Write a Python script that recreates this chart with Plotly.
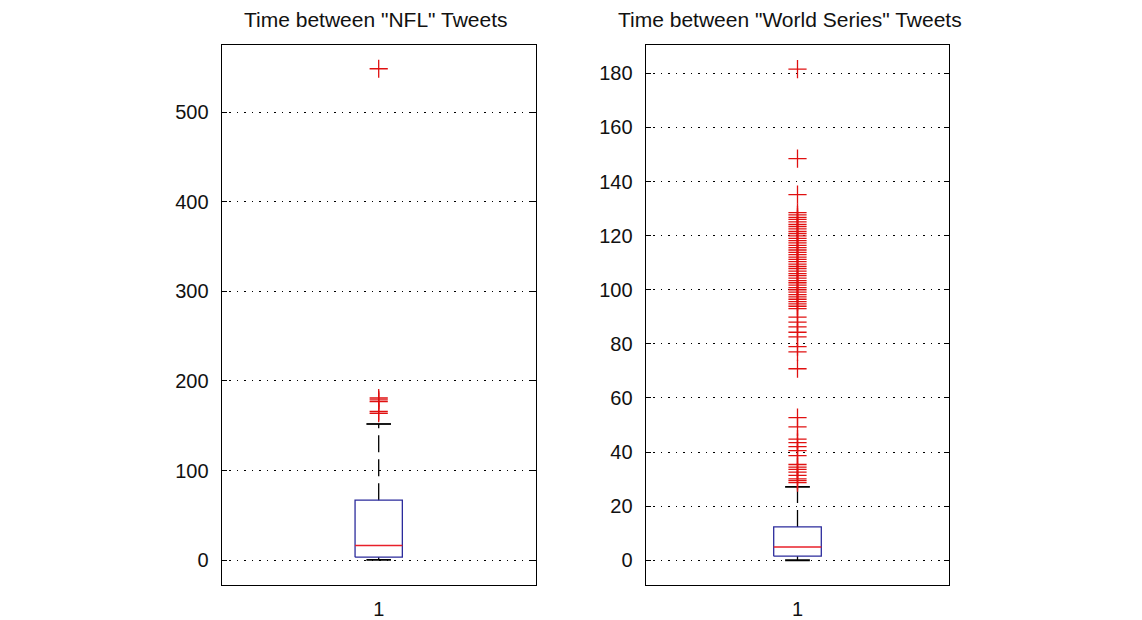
import plotly.graph_objects as go
from plotly.subplots import make_subplots

# ---------------- data ----------------
titles = ['Time between "NFL" Tweets', 'Time between "World Series" Tweets']
x_tick_labels = ["1"]

# box statistics: lower whisker, Q1, median, Q3, upper whisker
nfl_stats = [0.4, 3.4, 16.4, 67.0, 152.0]
ws_stats = [0.0, 1.5, 4.9, 12.3, 27.1]

nfl_outliers = [164, 166, 177, 179, 181, 548.5]
ws_outliers = [28.7, 29.4, 30.1, 31.4, 32.6, 33.6, 34.4, 35.4, 38.7, 40.5,
               42.0, 43.5, 44.8, 49.3, 52.7, 70.8, 77.0, 79.0, 82.6, 84.3,
               86.3, 88.0, 89.9, 93.0, 93.9, 94.8, 95.6, 96.5, 97.4, 98.2,
               99.1, 100.0, 100.8, 101.7, 102.6, 103.4, 104.3, 105.2, 106.0,
               106.9, 107.8, 108.6, 109.5, 110.4, 111.2, 112.1, 113.0, 113.8,
               114.7, 115.6, 116.4, 117.3, 118.2, 119.0, 119.9, 120.8, 121.6,
               122.5, 123.4, 124.2, 125.1, 126.0, 126.8, 127.7, 128.5, 135.2,
               148.5, 181.6]

nfl_ticks = [0, 100, 200, 300, 400, 500]
ws_ticks = [0, 20, 40, 60, 80, 100, 120, 140, 160, 180]

# ---------------- styling ----------------
FONT = "Liberation Sans, Arial, sans-serif"
BOX_C = "#2b2b9c"
MED_C = "#e8202a"
OUT_C = "#e01010"
WHISK_C = "#000000"

fig = make_subplots(rows=1, cols=2)


def add_box(col, stats, outliers, half_w):
    lo, q1, med, q3, hi = stats
    x0, x1 = 1 - half_w, 1 + half_w
    cap = half_w * 0.52
    # whiskers (dashed)
    fig.add_trace(go.Scatter(x=[1, 1, None, 1, 1], y=[q3, hi, None, lo, q1],
                             mode="lines", line=dict(color=WHISK_C, width=1.3, dash="17px,7px"),
                             hoverinfo="skip", showlegend=False), row=1, col=col)
    # caps
    fig.add_trace(go.Scatter(x=[1 - cap, 1 + cap, None, 1 - cap, 1 + cap],
                             y=[hi, hi, None, lo, lo], mode="lines",
                             line=dict(color=WHISK_C, width=1.8),
                             hoverinfo="skip", showlegend=False), row=1, col=col)
    # box
    fig.add_trace(go.Scatter(x=[x0, x1, x1, x0, x0], y=[q1, q1, q3, q3, q1],
                             mode="lines", line=dict(color=BOX_C, width=1.3),
                             hoverinfo="skip", showlegend=False), row=1, col=col)
    # median
    fig.add_trace(go.Scatter(x=[x0, x1], y=[med, med], mode="lines",
                             line=dict(color=MED_C, width=1.3),
                             hoverinfo="skip", showlegend=False), row=1, col=col)
    # outliers
    fig.add_trace(go.Scatter(x=[1] * len(outliers), y=outliers, mode="markers",
                             marker=dict(symbol="cross-thin-open", size=13, color=OUT_C,
                                         line=dict(color=OUT_C, width=1.3)),
                             hoverinfo="skip", showlegend=False), row=1, col=col)


add_box(1, nfl_stats, nfl_outliers, 0.0753)
add_box(2, ws_stats, ws_outliers, 0.0784)

W, H = 1142, 620
left_dom = [221.7 / W, 535.7 / W]
right_dom = [645.7 / W, 949.3 / W]
y_dom = [1 - 591.0 / H, 1 - 45.7 / H]

axis_common = dict(showline=True, linecolor="black", linewidth=1.3, mirror=True,
                   tickfont=dict(family=FONT, size=20, color="#111111"))

for i, (dom, ticks, rng) in enumerate([(left_dom, nfl_ticks, [-28.0, 574.7]),
                                       (right_dom, ws_ticks, [-9.26, 190.4])], start=1):
    fig.update_xaxes(domain=dom, range=[0.5, 1.5], tickvals=[1], ticktext=x_tick_labels,
                     ticks="", showgrid=False, zeroline=False, ticklabelstandoff=6,
                     row=1, col=i, **axis_common)
    fig.update_yaxes(domain=y_dom, range=rng, tickvals=ticks, ticks="inside",
                     ticklen=5, tickcolor="black", tickwidth=1.3,
                     showgrid=True, gridcolor="black", gridwidth=1.2,
                     griddash="1.5px,6px", zeroline=False, ticklabelstandoff=8,
                     row=1, col=i, **{**axis_common, "mirror": "ticks"})

fig.add_annotation(text=titles[0], xref="paper", yref="paper", x=376 / W, y=1 - 20 / H,
                   xanchor="center", yanchor="middle", showarrow=False,
                   font=dict(family=FONT, size=21, color="#111111"))
fig.add_annotation(text=titles[1], xref="paper", yref="paper", x=790 / W, y=1 - 20 / H,
                   xanchor="center", yanchor="middle", showarrow=False,
                   font=dict(family=FONT, size=21, color="#111111"))

fig.update_layout(width=W, height=H, margin=dict(l=0, r=0, t=0, b=0),
                  paper_bgcolor="white", plot_bgcolor="white", showlegend=False)

fig.write_html("out.html")
